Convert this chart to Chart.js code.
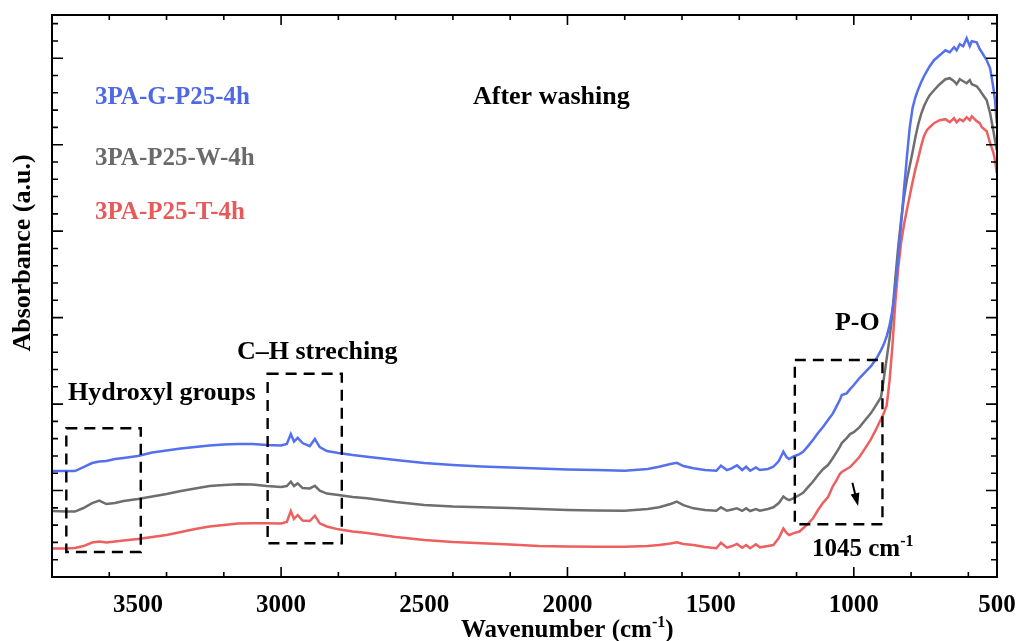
<!DOCTYPE html>
<html>
<head>
<meta charset="utf-8">
<script src="https://cdn.jsdelivr.net/npm/chart.js@4.4.1/dist/chart.umd.min.js"></script>
<style>
  html, body { margin: 0; padding: 0; background: #fff; }
  #wrap { width: 1019px; height: 641px; }
</style>
</head>
<body>
<div id="wrap"><canvas id="ftir"></canvas></div>
<script>
// FTIR spectra after washing, wavenumber in cm-1, absorbance in arbitrary units
const wavenumber = [
  3800, 3750, 3720, 3690, 3660, 3635, 3610, 3580, 3550, 3500,
  3450, 3400, 3350, 3300, 3250, 3200, 3150, 3100, 3050, 3000,
  2980, 2966, 2955, 2942, 2925, 2900, 2882, 2865, 2840, 2800,
  2750, 2700, 2600, 2500, 2400, 2300, 2200, 2100, 2000, 1900,
  1800, 1720, 1680, 1640, 1618, 1595, 1560, 1520, 1480, 1464,
  1443, 1425, 1408, 1390, 1376, 1362, 1342, 1328, 1300, 1281,
  1262, 1246, 1235, 1226, 1212, 1190, 1177, 1160, 1143, 1125,
  1107, 1090, 1073, 1060, 1049, 1042, 1025, 1013, 1000, 980,
  960, 940, 920, 905, 895, 885, 875, 865, 855, 845,
  835, 825, 815, 805, 795, 785, 775, 765, 755, 745,
  735, 720, 700, 680, 665, 650, 641, 630, 618, 606,
  595, 588, 571, 560, 553, 536, 524, 513, 507, 501
];

// 3PA-G-P25-4h
const gP25 = [
  1.225, 1.225, 1.225, 1.272, 1.318, 1.335, 1.341, 1.364, 1.376, 1.399,
  1.439, 1.462, 1.486, 1.503, 1.520, 1.532, 1.538, 1.538, 1.526, 1.520,
  1.538, 1.653, 1.566, 1.610, 1.549, 1.514, 1.595, 1.503, 1.457, 1.434,
  1.410, 1.391, 1.353, 1.318, 1.295, 1.277, 1.266, 1.254, 1.243, 1.237,
  1.229, 1.249, 1.275, 1.306, 1.321, 1.283, 1.257, 1.237, 1.229, 1.287,
  1.237, 1.260, 1.291, 1.237, 1.275, 1.229, 1.268, 1.237, 1.249, 1.275,
  1.341, 1.449, 1.387, 1.364, 1.391, 1.422, 1.449, 1.514, 1.584, 1.665,
  1.738, 1.815, 1.892, 1.977, 2.046, 2.104, 2.124, 2.173, 2.220, 2.301,
  2.370, 2.439, 2.532, 2.624, 2.694, 2.786, 2.913, 3.087, 3.341, 3.688,
  4.069, 4.474, 4.844, 5.191, 5.422, 5.549, 5.642, 5.723, 5.792, 5.850,
  5.908, 5.977, 6.035, 6.092, 6.069, 6.127, 6.092, 6.162, 6.139, 6.231,
  6.139, 6.197, 6.185, 6.104, 6.069, 5.977, 5.884, 5.665, 5.514, 5.249
];

// 3PA-P25-W-4h
const wP25 = [
  0.763, 0.757, 0.757, 0.798, 0.855, 0.884, 0.844, 0.855, 0.879, 0.902,
  0.931, 0.960, 0.994, 1.023, 1.052, 1.064, 1.072, 1.069, 1.052, 1.040,
  1.052, 1.102, 1.052, 1.083, 1.029, 1.025, 1.055, 0.998, 0.965, 0.948,
  0.925, 0.910, 0.867, 0.832, 0.815, 0.806, 0.798, 0.786, 0.775, 0.769,
  0.766, 0.786, 0.806, 0.844, 0.871, 0.832, 0.794, 0.775, 0.766, 0.806,
  0.766, 0.780, 0.794, 0.766, 0.794, 0.763, 0.786, 0.766, 0.786, 0.806,
  0.855, 0.931, 0.902, 0.890, 0.910, 0.948, 0.975, 1.040, 1.102, 1.179,
  1.249, 1.295, 1.376, 1.445, 1.506, 1.549, 1.607, 1.653, 1.676, 1.734,
  1.815, 1.896, 2.000, 2.081, 2.301, 2.532, 2.763, 3.064, 3.457, 3.815,
  4.127, 4.382, 4.590, 4.751, 4.913, 5.087, 5.237, 5.353, 5.445, 5.514,
  5.572, 5.630, 5.699, 5.757, 5.769, 5.734, 5.699, 5.757, 5.734, 5.711,
  5.746, 5.699, 5.676, 5.630, 5.595, 5.514, 5.364, 5.168, 5.052, 4.936
];

// 3PA-P25-T-4h
const tP25 = [
  0.329, 0.329, 0.335, 0.358, 0.399, 0.410, 0.399, 0.410, 0.422, 0.439,
  0.462, 0.486, 0.520, 0.555, 0.584, 0.601, 0.618, 0.621, 0.621, 0.618,
  0.636, 0.763, 0.671, 0.717, 0.653, 0.647, 0.709, 0.621, 0.584, 0.551,
  0.526, 0.509, 0.462, 0.428, 0.405, 0.390, 0.376, 0.358, 0.353, 0.349,
  0.350, 0.358, 0.370, 0.387, 0.401, 0.382, 0.370, 0.347, 0.332, 0.397,
  0.339, 0.358, 0.382, 0.339, 0.370, 0.332, 0.378, 0.343, 0.358, 0.370,
  0.451, 0.561, 0.509, 0.486, 0.505, 0.526, 0.563, 0.618, 0.676, 0.775,
  0.861, 0.925, 1.052, 1.121, 1.191, 1.214, 1.249, 1.272, 1.318, 1.391,
  1.491, 1.595, 1.723, 1.827, 1.896, 1.988, 2.277, 2.682, 3.179, 3.572,
  3.861, 4.069, 4.243, 4.405, 4.566, 4.717, 4.844, 4.983, 5.098, 5.168,
  5.202, 5.249, 5.283, 5.295, 5.260, 5.306, 5.260, 5.295, 5.272, 5.318,
  5.283, 5.329, 5.272, 5.249, 5.202, 5.156, 5.017, 4.913, 4.821, 4.671
];

const seriesNames = ['3PA-G-P25-4h', '3PA-P25-W-4h', '3PA-P25-T-4h'];
const seriesColors = ['#5470ee', '#6e6e6e', '#ee5f5f'];
const labelColors = ['#4f68e6', '#6a6a6a', '#e65a5a'];

// x tick labels
const xTickLabels = [3500, 3000, 2500, 2000, 1500, 1000, 500];

// sample labels: [wavenumber at left edge, absorbance at text middle]
const seriesLabelPos = [[3650, 5.54], [3650, 4.84], [3650, 4.21]];

// dashed regions: [from cm-1, to cm-1, bottom, top]
const hydroxylBox = [3750, 3490, 0.29, 1.72];
const chBox = [3047, 2788, 0.39, 2.35];
const poBox = [1206, 900, 0.61, 2.51];
const shiftArrow = [1005, 1.09, 985, 0.82];

const SERIF = "'Liberation Serif', 'Times New Roman', serif";
const font = size => 'bold ' + size + 'px ' + SERIF;

const toPoints = ys => wavenumber.map((w, i) => ({x: w, y: ys[i]}));

const decorations = {
  id: 'decorations',
  afterDatasetsDraw(chart) {
    const {ctx, chartArea: a, scales: {x, y}} = chart;
    const px = v => x.getPixelForValue(v);
    const py = v => y.getPixelForValue(v);
    ctx.save();

    // inward ticks on all four sides
    ctx.strokeStyle = '#000';
    ctx.lineWidth = 1.6;
    ctx.beginPath();
    x.ticks.forEach(t => {
      const p = px(t.value);
      const len = t.major ? 10 : 5;
      ctx.moveTo(p, a.bottom); ctx.lineTo(p, a.bottom - len);
      ctx.moveTo(p, a.top); ctx.lineTo(p, a.top + len);
    });
    y.ticks.forEach(t => {
      const p = py(t.value);
      const len = t.major ? 11 : 6;
      ctx.moveTo(a.left, p); ctx.lineTo(a.left + len, p);
      ctx.moveTo(a.right, p); ctx.lineTo(a.right - len, p);
    });
    ctx.stroke();

    ctx.lineWidth = 2;
    ctx.strokeRect(a.left, a.top, a.right - a.left, a.bottom - a.top);

    // x tick labels
    ctx.fillStyle = '#000';
    ctx.font = font(25);
    ctx.textAlign = 'center';
    ctx.textBaseline = 'alphabetic';
    xTickLabels.forEach(v => ctx.fillText(String(v), px(v), a.bottom + 35));

    // dashed boxes
    ctx.setLineDash([11, 7]);
    ctx.lineWidth = 2.4;
    [hydroxylBox, chBox, poBox].forEach(b => {
      const x0 = px(b[0]), x1 = px(b[1]), y0 = py(b[3]), y1 = py(b[2]);
      ctx.strokeRect(x0, y0, x1 - x0, y1 - y0);
    });
    ctx.setLineDash([]);

    // shift arrow
    const ax0 = px(shiftArrow[0]), ay0 = py(shiftArrow[1]);
    const ax1 = px(shiftArrow[2]), ay1 = py(shiftArrow[3]);
    const ang = Math.atan2(ay1 - ay0, ax1 - ax0);
    const c = Math.cos(ang), s = Math.sin(ang);
    ctx.lineWidth = 2;
    ctx.beginPath();
    ctx.moveTo(ax0, ay0);
    ctx.lineTo(ax1 - 10 * c, ay1 - 10 * s);
    ctx.stroke();
    ctx.beginPath();
    ctx.moveTo(ax1, ay1);
    ctx.lineTo(ax1 - 13 * c + 4.5 * s, ay1 - 13 * s - 4.5 * c);
    ctx.lineTo(ax1 - 13 * c - 4.5 * s, ay1 - 13 * s + 4.5 * c);
    ctx.closePath();
    ctx.fill();

    // text
    ctx.textBaseline = 'middle';
    ctx.textAlign = 'left';
    ctx.font = font(25);
    seriesNames.forEach((name, i) => {
      ctx.fillStyle = labelColors[i];
      ctx.fillText(name, px(seriesLabelPos[i][0]), py(seriesLabelPos[i][1]));
    });
    ctx.fillStyle = '#000';
    ctx.font = font(26);
    ctx.fillText('After washing', px(2330), py(5.55));
    ctx.fillText('Hydroxyl groups', px(3744), py(2.13));
    ctx.fillText('C\u2013H streching', px(3154), py(2.60));
    ctx.fillText('P-O', px(1066), py(2.94));

    const sup = (base, sText, tail, x0, yb, size) => {
      ctx.font = font(size);
      ctx.textBaseline = 'alphabetic';
      ctx.fillText(base, x0, yb);
      let xx = x0 + ctx.measureText(base).width;
      ctx.font = font(Math.round(size * 0.62));
      ctx.fillText(sText, xx, yb - size * 0.42);
      xx += ctx.measureText(sText).width;
      ctx.font = font(size);
      ctx.fillText(tail, xx, yb);
    };
    sup('1045 cm', '-1', '', px(1146), py(0.335) + 8, 25);

    // axis titles
    sup('Wavenumber (cm', '-1', ')', 461, 637, 25);
    ctx.save();
    ctx.translate(30, 253);
    ctx.rotate(-Math.PI / 2);
    ctx.font = font(26);
    ctx.textAlign = 'center';
    ctx.textBaseline = 'alphabetic';
    ctx.fillText('Absorbance (a.u.)', 0, 0);
    ctx.restore();

    ctx.restore();
  }
};

new Chart(document.getElementById('ftir'), {
  type: 'line',
  data: {
    datasets: seriesNames.map((name, i) => ({
      label: name,
      data: toPoints([gP25, wP25, tP25][i]),
      borderColor: seriesColors[i],
      backgroundColor: seriesColors[i],
      borderWidth: 2.5,
      pointRadius: 0,
      tension: 0
    }))
  },
  options: {
    responsive: true,
    maintainAspectRatio: false,
    animation: false,
    layout: {padding: {top: 15, right: 22, left: 52, bottom: 64}},
    plugins: {legend: {display: false}, tooltip: {enabled: false}},
    scales: {
      x: {
        type: 'linear',
        display: false,
        reverse: true,
        min: 500,
        max: 3800,
        afterBuildTicks(scale) {
          const ticks = [];
          for (let v = 3800; v >= 500; v -= 100) ticks.push({value: v, major: v % 500 === 0});
          scale.ticks = ticks;
        }
      },
      y: {
        display: false,
        min: 0,
        max: 6.5,
        afterBuildTicks(scale) {
          const ticks = [];
          for (let i = 1; i <= 32; i++) ticks.push({value: i / 5, major: i % 5 === 0});
          scale.ticks = ticks;
        }
      }
    }
  },
  plugins: [decorations]
});
</script>
</body>
</html>
